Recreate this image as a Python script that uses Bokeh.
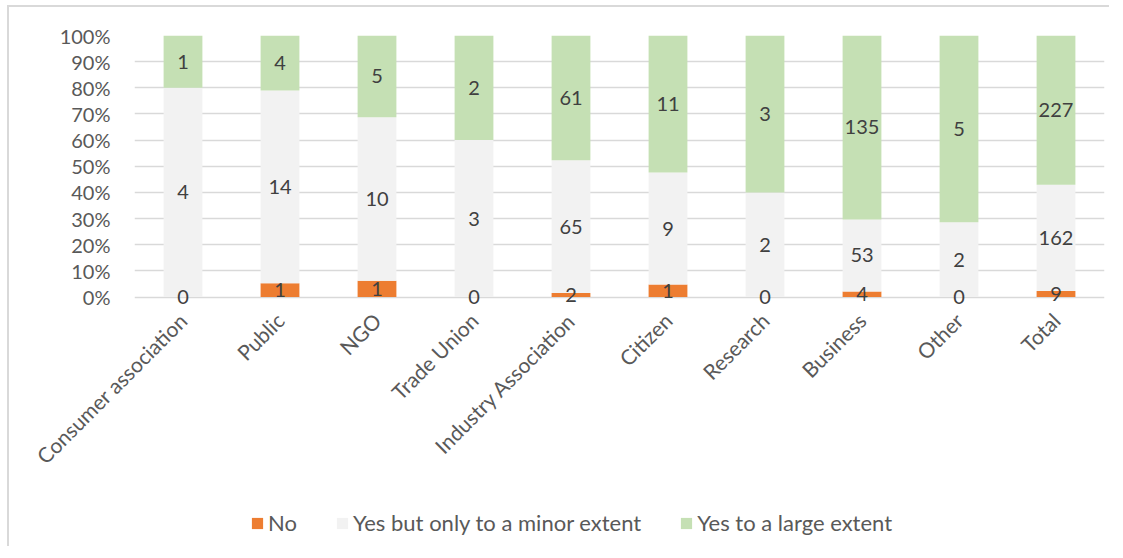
import numpy as np
from bokeh.plotting import figure
from bokeh.layouts import column
from bokeh.models import (ColumnDataSource, FactorRange, NumeralTickFormatter, Legend,
                          LegendItem, FixedTicker, Range1d)
from bokeh.core.properties import value
from bokeh.embed import file_html
from bokeh.resources import INLINE

categories = ["Consumer association", "Public", "NGO", "Trade Union", "Industry Association",
              "Citizen", "Research", "Business", "Other", "Total"]
no_counts = [0, 1, 1, 0, 2, 1, 0, 4, 0, 9]
minor_counts = [4, 14, 10, 3, 65, 9, 2, 53, 2, 162]
large_counts = [1, 4, 5, 2, 61, 11, 3, 135, 5, 227]
series_names = ["No", "Yes but only to a minor extent", "Yes to a large extent"]
colors = ["#ED7D31", "#F2F2F2", "#C5E0B4"]

FONT = "Lato"
TXT = "#595959"
FS = "20px"

no = np.array(no_counts, float)
mi = np.array(minor_counts, float)
la = np.array(large_counts, float)
tot = no + mi + la
s_no, s_mi, s_la = no / tot, mi / tot, la / tot

src = ColumnDataSource(dict(cat=categories, no=s_no, minor=s_mi, large=s_la))

W = 1100
H = 495
TOP = 28
FRAME_H = 272
p = figure(x_range=FactorRange(*categories, range_padding=0), y_range=Range1d(-0.04, 1),
           width=W, height=H, output_backend="svg", toolbar_location=None,
           min_border_left=125, min_border_right=5, min_border_top=TOP,
           min_border_bottom=H - TOP - FRAME_H,
           outline_line_color=None, background_fill_color="white", border_fill_color="white")

renderers = p.vbar_stack(["no", "minor", "large"], x="cat", width=0.4, color=colors,
                         line_color=None, source=src)

# labels at segment centres
lab_y = np.concatenate([s_no / 2, s_no + s_mi / 2, s_no + s_mi + s_la / 2])
lab_x = categories * 3
lab_t = [str(v) for v in no_counts + minor_counts + large_counts]
lsrc = ColumnDataSource(dict(x=lab_x, y=lab_y, t=lab_t))
p.text(x="x", y="y", text="t", source=lsrc, text_align="center", text_baseline="middle",
       text_font=value(FONT), text_font_size=FS, text_color="#404040")

p.yaxis.ticker = FixedTicker(ticks=[i / 10 for i in range(11)])
p.yaxis.formatter = NumeralTickFormatter(format="0%")
p.yaxis.axis_line_color = None
p.yaxis.major_tick_line_color = None
p.yaxis.minor_tick_line_color = None
p.yaxis.major_label_standoff = 18
p.yaxis.major_label_text_font = FONT
p.yaxis.major_label_text_font_size = FS
p.yaxis.major_label_text_color = TXT

p.xaxis.axis_line_color = None
p.xaxis.major_tick_line_color = None
p.xaxis.minor_tick_line_color = None
p.xaxis.major_label_orientation = np.pi / 4
p.xaxis.major_label_standoff = 3
p.xaxis.major_label_text_font = FONT
p.xaxis.major_label_text_font_size = "21px"
p.xaxis.major_label_text_color = TXT

p.xgrid.grid_line_color = None
p.ygrid.grid_line_color = "#D9D9D9"
p.ygrid.grid_line_width = 1.5

# legend strip
q = figure(width=W, height=44, output_backend="svg", toolbar_location=None,
           x_range=Range1d(0, 1), y_range=Range1d(0, 1), min_border=0,
           outline_line_color=None, background_fill_color="white", border_fill_color="white")
q.axis.visible = False
q.grid.visible = False
dummies = [q.vbar(x=[0.5], top=[0], bottom=[0], width=0, color=c, line_color=None)
           for c in colors]
legend = Legend(items=[LegendItem(label=n, renderers=[r]) for n, r in zip(series_names, dummies)],
                orientation="horizontal", location=(116, 10), glyph_width=14, glyph_height=14,
                spacing=38, label_text_font=FONT, label_text_font_size="22px",
                label_text_color=TXT, background_fill_alpha=0, border_line_color=None,
                label_standoff=4, padding=0, margin=0)
q.add_layout(legend, "center")

page = column(p, q, spacing=0,
              styles={"border-top": "2px solid #D9D9D9", "border-left": "2px solid #D9D9D9",
                      "margin-top": "5px", "margin-left": "7px"})

open("out.html", "w").write(file_html(page, INLINE))
